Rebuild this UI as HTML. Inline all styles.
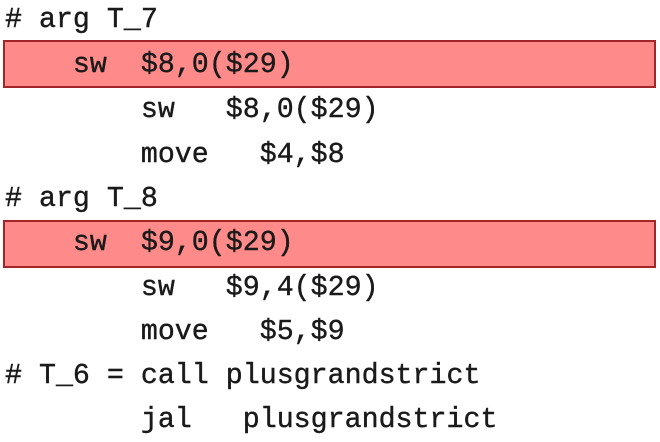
<!DOCTYPE html>
<html><head><style>
html,body{margin:0;padding:0;background:#fff;width:660px;height:442px;overflow:hidden}
.l{position:absolute;left:5px;font-family:"Liberation Mono",monospace;font-size:28.3px;line-height:44px;height:44px;color:#1a1a1a;white-space:pre;-webkit-text-stroke:0.4px #1a1a1a}
.b{position:absolute;left:3px;width:649px;height:44px;background:#ff8a8a;border:2px solid #a0262a}
</style></head><body>
<div class="b" style="top:40px"></div>
<div class="b" style="top:220px"></div>
<div class="l" style="top:-2px"># arg T_7</div>
<div class="l" style="top:43px">    sw  $8,0($29)</div>
<div class="l" style="top:88px">        sw   $8,0($29)</div>
<div class="l" style="top:133px">        move   $4,$8</div>
<div class="l" style="top:177px"># arg T_8</div>
<div class="l" style="top:221px">    sw  $9,0($29)</div>
<div class="l" style="top:266px">        sw   $9,4($29)</div>
<div class="l" style="top:310px">        move   $5,$9</div>
<div class="l" style="top:354px"># T_6 = call plusgrandstrict</div>
<div class="l" style="top:398px">        jal   plusgrandstrict</div>
</body></html>
